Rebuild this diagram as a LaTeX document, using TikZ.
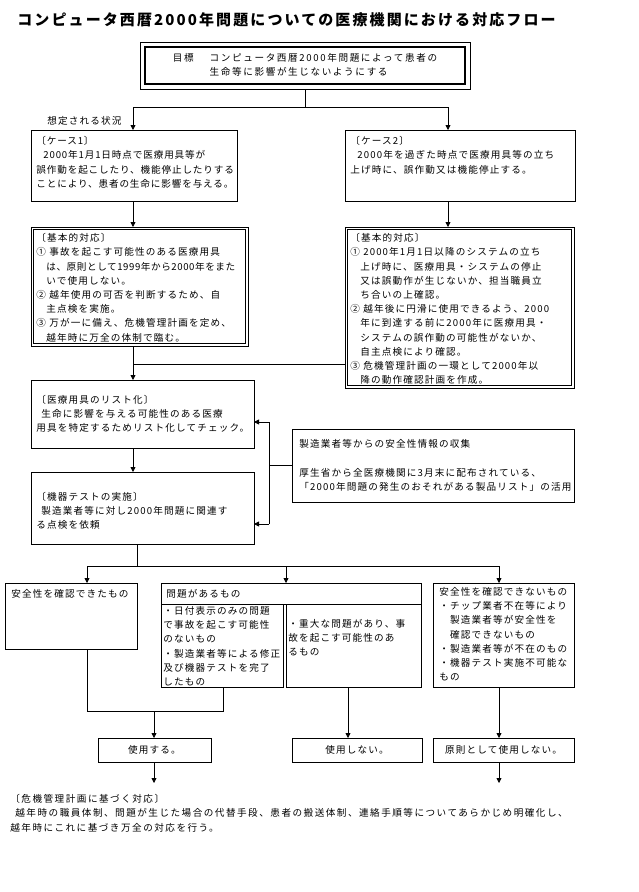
\documentclass[tikz,border=0pt]{standalone}
\usepackage{fontspec}
\usetikzlibrary{arrows.meta}
\newfontfamily\jp{Noto Sans CJK JP}[LetterSpace=12]
\newfontfamily\jpwide{Noto Sans CJK JP}[LetterSpace=15.5]
\newfontfamily\jpgoal{Noto Sans CJK JP}[LetterSpace=17]
\newfontfamily\jptight{Noto Sans CJK JP}[LetterSpace=9]
\newfontfamily\jptighter{Noto Sans CJK JP}[LetterSpace=6]
\newfontfamily\jptitle{Noto Sans CJK JP}[LetterSpace=14]
\begin{document}
\begin{tikzpicture}[x=1pt,y=-1pt,line width=0.8pt,
  box/.style={draw,line width=0.8pt,anchor=north west,inner sep=0pt,outer sep=0pt},
  inbox/.style={draw,line width=0.7pt,inner sep=0pt,outer sep=0pt},
  txt/.style={font=\jp\fontsize{9.6}{14.2}\selectfont,align=left,inner sep=0pt,anchor=north west},
  ttl/.style={font=\jptitle\bfseries\fontsize{15}{18}\selectfont,inner sep=0pt},
  arr/.style={-{Triangle[width=5pt,length=5pt]},line width=0.8pt}]
\useasboundingbox (0,0) rectangle (639,892);
\fill[white] (0,0) rectangle (639,892);

% title
\node[ttl,anchor=west] (title) at (17,20) {コンピュータ西暦2000年問題についての医療機関における対応フロー};

% goal
\node[box,minimum width=330pt,minimum height=47pt] (goal) at (140,42) {};
\node[draw,line width=2.6pt,minimum width=320pt,minimum height=37pt,inner sep=0pt] (goalin) at (goal.center) {};
\node[txt,anchor=center,font=\jpgoal\fontsize{9.6}{14.2}\selectfont] (goalt) at (goal.center) {\begin{tabular}{@{}l@{\hspace{16pt}}l@{}}目標 & コンピュータ西暦2000年問題によって患者の\\ & 生命等に影響が生じないようにする\end{tabular}};

\coordinate (jL) at (133,107);
\coordinate (jR) at (448,107);
\node[txt,anchor=east] (sotei) at (122,121) {想定される状況};

% cases
\node[box,minimum width=206pt,minimum height=71pt] (case1) at (31,130) {};
\node[txt,font=\jptight\fontsize{9.6}{14.2}\selectfont] (case1t) at (36,136) {〔ケース1〕\\\hspace*{7pt}2000年1月1日時点で医療用具等が\\誤作動を起こしたり、機能停止したりする\\ことにより、患者の生命に影響を与える。};
\node[box,minimum width=230pt,minimum height=71pt] (case2) at (345,130) {};
\node[txt] (case2t) at (350,136) {〔ケース2〕\\\hspace*{7pt}2000年を過ぎた時点で医療用具等の立ち\\上げ時に、誤作動又は機能停止する。};

% basic responses (double border)
\node[box,minimum width=217pt,minimum height=119pt] (basL) at (31,227) {};
\node[inbox,minimum width=212pt,minimum height=114pt] (basLin) at (basL.center) {};
\node[txt] (basLt) at (36,233) {〔基本的対応〕\\①\ 事故を起こす可能性のある医療用具\\{\jptighter\hspace*{10pt}は、原則として1999年から2000年をまた}\\\hspace*{10pt}いで使用しない。\\②\ 越年使用の可否を判断するため、自\\\hspace*{10pt}主点検を実施。\\③\ 万が一に備え、危機管理計画を定め、\\\hspace*{10pt}越年時に万全の体制で臨む。};
\node[box,minimum width=229pt,minimum height=161pt] (basR) at (345,227) {};
\node[inbox,minimum width=224pt,minimum height=156pt] (basRin) at (basR.center) {};
\node[txt] (basRt) at (350,233) {〔基本的対応〕\\①\ 2000年1月1日以降のシステムの立ち\\\hspace*{10pt}上げ時に、医療用具・システムの停止\\\hspace*{10pt}又は誤動作が生じないか、担当職員立\\\hspace*{10pt}ち合いの上確認。\\②\ 越年後に円滑に使用できるよう、2000\\\hspace*{10pt}年に到達する前に2000年に医療用具・\\\hspace*{10pt}システムの誤作動の可能性がないか、\\\hspace*{10pt}自主点検により確認。\\③\ 危機管理計画の一環として2000年以\\\hspace*{10pt}降の動作確認計画を作成。};

% list and test
\node[box,minimum width=223pt,minimum height=68pt] (list) at (31,380) {};
\node[txt,anchor=west] (listt) at ([xshift=5pt]list.west) {〔医療用具のリスト化〕\\\hspace*{5pt}生命に影響を与える可能性のある医療\\用具を特定するためリスト化してチェック。};
\node[box,minimum width=223pt,minimum height=72pt] (test) at (31,472) {};
\node[txt,anchor=west] (testt) at ([xshift=5pt,yshift=-3pt]test.west) {〔機器テストの実施〕\\\hspace*{5pt}製造業者等に対し2000年問題に関連す\\る点検を依頼};

% info
\node[box,minimum width=282pt,minimum height=73pt] (info) at (292,429) {};
\node[txt,anchor=west] (infot) at ([xshift=7pt]info.west) {製造業者等からの安全性情報の収集\\[14.2pt]厚生省から全医療機関に3月末に配布されている、\\「2000年問題の発生のおそれがある製品リスト」の活用};

% outcome boxes
\node[box,minimum width=132pt,minimum height=66pt] (ok) at (5,583) {};
\node[txt] (okt) at (11,589) {安全性を確認できたもの};
\node[box,minimum width=260pt,minimum height=21pt] (probH) at (161,583) {};
\node[txt,anchor=west] (probHt) at ([xshift=5pt]probH.west) {問題があるもの};
\node[box,minimum width=122pt,minimum height=83pt] (probA) at (161,604) {};
\node[txt] (probAt) at (163,606) {・日付表示のみの問題\\で事故を起こす可能性\\のないもの\\・製造業者等による修正\\及び機器テストを完了\\したもの};
\node[box,minimum width=135pt,minimum height=83pt] (probB) at (286,604) {};
\node[txt] (probBt) at (288,619) {・重大な問題があり、事\\故を起こす可能性のあ\\るもの};
\node[box,minimum width=141pt,minimum height=104pt] (ng) at (433,583) {};
\node[txt] (ngt) at (439,587) {安全性を確認できないもの\\・チップ業者不在等により\\　製造業者等が安全性を\\　確認できないもの\\・製造業者等が不在のもの\\・機器テスト実施不可能な\\もの};

% results
\node[box,minimum width=113pt,minimum height=24pt] (use) at (98,738) {};
\node[txt,anchor=center] (uset) at (use.center) {使用する。};
\node[box,minimum width=130pt,minimum height=24pt] (nouse) at (292,738) {};
\node[txt,anchor=center] (nouset) at (nouse.center) {使用しない。};
\node[box,minimum width=141pt,minimum height=24pt] (mostly) at (433,738) {};
\node[txt,anchor=center] (mostlyt) at (mostly.center) {原則として使用しない。};

% bottom text
\node[txt,font=\jpwide\fontsize{9.6}{14.2}\selectfont] (crisis) at (10,794) {〔危機管理計画に基づく対応〕\\\hspace*{5pt}越年時の職員体制、問題が生じた場合の代替手段、患者の搬送体制、連絡手順等についてあらかじめ明確化し、\\越年時にこれに基づき万全の対応を行う。};

% connectors
\draw (goal.south) -- (goal.south |- jL);
\draw (jL) -- (jR);
\draw[arr] (jL) -- (jL |- case1.north);
\draw[arr] (jR) -- (jR |- case2.north);
\draw[arr] (jL |- case1.south) -- (jL |- basL.north);
\draw[arr] (jR |- case2.south) -- (jR |- basR.north);
\coordinate (m1) at (133,364);
\draw[arr] (m1 |- basL.south) -- (m1 |- list.north);
\draw (m1) -- (m1 -| basR.west);
\draw[arr] (m1 |- list.south) -- (m1 |- test.north);
\coordinate (v1) at (269,422);
\coordinate (v2) at (269,524);
\draw (v1) -- (v2);
\draw[arr] (v1) -- (v1 -| list.east);
\draw[arr] (v2) -- (v2 -| test.east);
\draw (info.west) -- (info.west -| v1);
\coordinate (b0) at (137,566);
\coordinate (bL) at (87,566);
\coordinate (bM) at (286,566);
\coordinate (bR) at (499,566);
\draw (b0 |- test.south) -- (b0);
\draw (bL) -- (bR);
\draw[arr] (bL) -- (bL |- ok.north);
\draw[arr] (bM) -- (bM |- probH.north);
\draw[arr] (bR) -- (bR |- ng.north);
\coordinate (c1) at (87,711);
\coordinate (c2) at (223,711);
\coordinate (c0) at (154,711);
\draw (c1 |- ok.south) -- (c1) -- (c2) -- (c2 |- probA.south);
\draw[arr] (c0) -- (c0 |- use.north);
\coordinate (c3) at (348,711);
\draw[arr] (c3 |- probB.south) -- (c3 |- nouse.north);
\draw[arr] (bR |- ng.south) -- (bR |- mostly.north);
\coordinate (e1) at (154,783);
\coordinate (e2) at (499,783);
\draw[arr] (c0 |- use.south) -- (e1);
\draw[arr] (bR |- mostly.south) -- (e2);
\end{tikzpicture}
\end{document}
